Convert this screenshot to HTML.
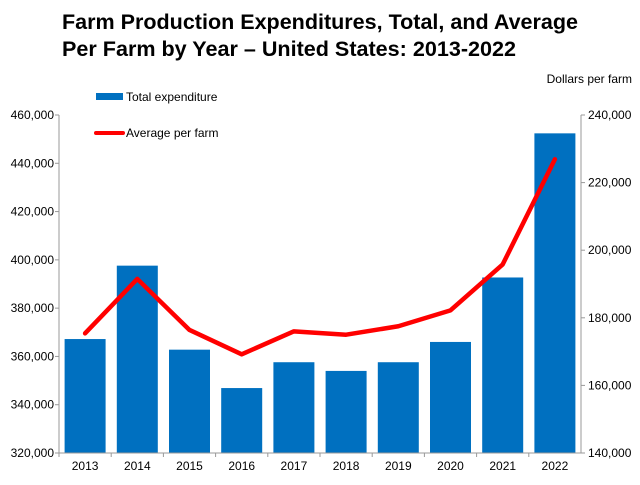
<!DOCTYPE html>
<html><head><meta charset="utf-8"><style>
body{margin:0;background:#fff;}
svg text{font-family:"Liberation Sans",Arial,sans-serif;}
</style></head><body>
<svg id="chart" width="640" height="480" xmlns="http://www.w3.org/2000/svg">
<text x="62" y="29" font-size="21" font-weight="bold" textLength="516" lengthAdjust="spacingAndGlyphs">Farm Production Expenditures, Total, and Average</text>
<text x="62" y="56" font-size="21" font-weight="bold" textLength="454" lengthAdjust="spacingAndGlyphs">Per Farm by Year – United States: 2013-2022</text>
<text x="632" y="83" font-size="12" text-anchor="end">Dollars per farm</text>
<g>
<rect x="96" y="93" width="27" height="7" fill="#0070c0"/>
<text x="126" y="101" font-size="12">Total expenditure</text>
<line x1="96" y1="133" x2="123" y2="133" stroke="#ff0000" stroke-width="4" stroke-linecap="round"/>
<text x="126" y="137" font-size="12">Average per farm</text>
</g>
<g id="plot"></g>
</svg>
<script>
const years=["2013","2014","2015","2016","2017","2018","2019","2020","2021","2022"];
const totalExp=[367200,397600,362800,346900,357600,354000,357600,366000,392700,452400];
const avgFarm=[175400,191500,176400,169200,176000,175000,177500,182200,195800,226900];
const leftTicks=[320000,340000,360000,380000,400000,420000,440000,460000];
const rightTicks=[140000,160000,180000,200000,220000,240000];
const NS="http://www.w3.org/2000/svg";
const g=document.getElementById('plot');
const X0=59,X1=581,YT=115,YB=453;
const yL=v=>YB-(v-320000)/(460000-320000)*(YB-YT);
const yR=v=>YB-(v-140000)/(240000-140000)*(YB-YT);
const step=(X1-X0)/years.length;
const xC=i=>X0+step*(i+0.5);
function mk(t,a){const e=document.createElementNS(NS,t);for(const k in a)e.setAttribute(k,a[k]);g.appendChild(e);return e;}
totalExp.forEach((v,i)=>{
 const r=mk('rect',{x:xC(i)-20.5,y:yL(v),width:41,height:YB-yL(v),fill:'#0070c0'});
 
 
});
// axes
let a=mk('line',{x1:X0,y1:YT,x2:X0,y2:YB,stroke:'#999'});


a=mk('line',{x1:X1,y1:YT,x2:X1,y2:YB,stroke:'#999'});


a=mk('line',{x1:X0,y1:YB,x2:X1,y2:YB,stroke:'#999'});


leftTicks.forEach(v=>{
 mk('line',{x1:X0-4,y1:yL(v),x2:X0,y2:yL(v),stroke:'#999'});
 const t=mk('text',{x:X0-5,y:yL(v)+4,'font-size':12,'text-anchor':'end'});
 t.textContent=v.toLocaleString('en-US');
 
 
});
rightTicks.forEach(v=>{
 mk('line',{x1:X1,y1:yR(v),x2:X1+4,y2:yR(v),stroke:'#999'});
 const t=mk('text',{x:X1+7,y:yR(v)+4,'font-size':12});
 t.textContent=v.toLocaleString('en-US');
 
 
});
years.forEach((y,i)=>{
 mk('line',{x1:X0+step*i,y1:YB,x2:X0+step*i,y2:YB+4,stroke:'#999'});
 const t=mk('text',{x:xC(i),y:YB+17,'font-size':12,'text-anchor':'middle'});
 t.textContent=y;
 
 
});
const pts=avgFarm.map((v,i)=>[xC(i),yR(v)]);
const p=mk('polyline',{points:pts.map(q=>q.join(',')).join(' '),fill:'none',stroke:'#ff0000','stroke-width':4.5,'stroke-linejoin':'round','stroke-linecap':'round'});


</script>
</body></html>
